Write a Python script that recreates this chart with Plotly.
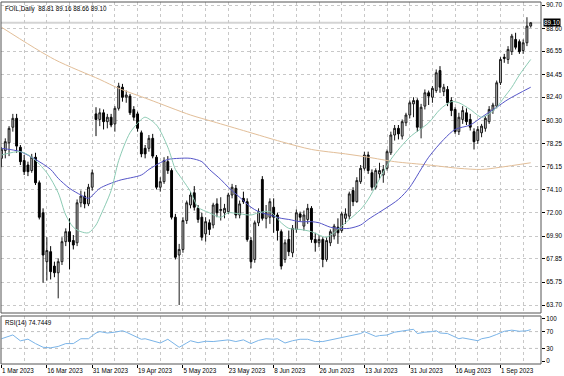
import plotly.graph_objects as go

# ---------------- data ----------------
bar_index = list(range(141))
opens = [76.9,77.6,78.3,79.7,80.5,77.9,76.7,76.3,75.8,77.0,74.7,72.0,67.6,68.5,67.2,66.6,67.6,69.4,70.3,69.5,
         69.3,72.9,73.5,72.8,74.3,80.9,80.4,81.0,80.2,80.6,80.0,81.4,83.3,82.4,82.5,81.3,80.9,79.2,77.8,77.8,
         78.7,77.0,74.3,74.8,76.6,75.8,71.6,68.2,68.7,71.3,72.7,73.8,72.4,71.6,70.1,71.1,70.9,72.8,72.2,72.0,
         72.1,73.6,74.2,71.8,73.3,73.0,69.5,67.8,71.1,75.0,71.5,71.6,72.5,71.8,70.3,67.8,69.6,68.4,70.5,71.9,
         70.8,71.4,72.4,69.6,69.3,69.6,67.8,69.3,69.9,70.7,70.4,71.5,71.7,74.0,73.0,74.8,76.0,77.2,75.6,74.3,
         75.5,75.4,76.0,77.4,79.0,79.6,78.9,80.1,80.8,81.8,82.1,79.6,81.6,82.8,82.4,83.0,84.8,82.9,83.1,82.1,
         81.3,79.3,80.4,81.0,80.4,79.3,78.5,79.2,79.6,80.2,81.2,81.6,83.7,86.0,85.8,86.5,87.6,87.4,86.6,87.3,
         88.81]
highs = [77.9,78.7,79.8,80.9,80.9,78.1,77.2,76.6,77.3,77.4,74.9,72.4,69.8,69.0,67.6,67.9,69.8,70.6,71.5,70.0,
         73.2,74.0,73.9,74.6,75.9,81.5,81.4,81.3,80.9,80.9,81.6,83.7,83.6,83.0,82.7,81.6,81.1,79.4,78.1,79.0,
         79.1,77.2,75.2,77.0,77.1,76.0,71.9,69.2,71.6,73.1,73.9,74.4,72.7,72.0,71.6,71.4,72.9,73.3,73.4,72.8,
         73.8,74.6,74.5,73.1,73.9,73.3,69.8,71.3,72.4,75.3,72.7,73.3,73.3,72.0,70.5,69.6,70.4,70.9,72.3,72.1,
         72.2,72.8,72.6,70.2,70.0,69.8,69.8,70.5,71.0,71.5,72.1,72.4,73.9,74.3,75.2,76.3,77.5,77.5,75.9,76.0,
         76.5,76.3,77.7,79.3,79.9,79.9,80.4,81.0,82.1,82.4,82.3,81.8,83.1,83.0,83.4,84.9,85.2,83.6,83.4,82.4,
         81.5,81.0,81.6,81.4,80.9,79.6,79.8,80.0,80.7,81.6,81.9,83.9,86.0,86.3,87.0,88.1,88.2,87.6,87.6,89.6,
         89.16]
lows = [76.1,76.9,77.1,79.3,77.4,76.3,75.4,75.3,75.6,74.5,71.4,65.7,65.9,66.0,66.2,64.3,67.3,69.0,66.9,68.7,
        69.0,72.5,72.4,72.6,74.0,78.9,79.8,79.5,79.6,79.7,79.3,81.2,82.0,81.9,80.8,80.3,79.3,77.0,76.9,77.5,
        76.9,74.1,73.9,74.6,75.5,71.4,67.8,63.7,68.4,71.0,72.4,72.2,71.1,69.5,69.4,70.0,70.6,71.6,71.3,71.5,
        71.9,73.3,71.5,71.5,72.8,69.4,67.0,67.5,70.8,71.3,70.6,71.0,70.2,69.5,66.9,67.5,68.1,68.0,70.2,71.2,
        70.4,71.0,69.3,68.5,68.9,67.1,67.6,69.0,69.6,69.2,70.2,71.0,71.4,72.6,72.9,74.6,75.8,75.5,74.0,74.1,
        75.0,74.7,75.8,77.2,78.5,78.6,78.6,79.8,80.5,80.6,79.3,78.7,81.3,81.7,81.9,82.8,82.8,82.5,81.6,80.7,
        79.1,79.0,80.0,79.9,79.4,77.7,78.2,78.8,79.3,80.0,80.9,81.4,83.5,85.5,85.4,86.2,86.7,86.3,86.3,87.0,
        88.66]
closes = [77.7,78.4,79.6,80.5,78.0,76.6,75.7,75.7,77.0,74.7,71.6,68.2,68.6,66.7,66.6,67.6,69.4,70.3,69.4,69.1,
          72.9,73.5,72.8,74.3,75.6,80.4,81.0,80.2,80.6,79.9,81.4,83.4,82.4,82.6,81.0,80.6,79.6,77.3,77.3,78.7,
          77.1,74.3,74.8,76.7,75.8,71.6,68.0,68.7,71.3,72.9,73.6,72.5,71.4,69.8,71.2,70.5,72.7,72.0,72.3,72.4,
          73.6,74.3,71.8,72.8,73.0,69.6,67.6,71.1,72.1,71.5,72.0,73.0,71.6,70.4,67.2,69.3,68.5,70.6,72.0,71.6,
          71.8,72.4,69.6,69.3,69.6,67.8,69.5,70.3,70.8,70.2,71.9,71.9,73.7,73.0,74.9,76.0,77.2,75.8,74.3,75.8,
          75.8,75.9,77.5,79.0,79.6,79.1,80.2,80.8,81.9,82.1,79.7,81.5,82.8,82.5,83.2,84.6,83.3,83.3,81.9,81.2,
          79.3,80.6,81.2,80.2,79.7,78.4,79.5,79.8,80.5,81.3,81.7,83.7,85.8,85.9,86.7,87.9,86.9,86.5,87.3,88.8,
          89.10]

# moving averages (bar index, value)
fast_ma_x = [0,5,8,12,15,17,19,21,23,25,26,29,31,34,37,38,41,44,46,47,50,52,55,58,60,63,66,68,71,74,76,79,82,84,86,
             89,91,95,97,103,108,113,116,119,121,124,127,129,131,133,135,137,140]
fast_ma = [77.2,77.5,77.0,75.6,73.8,71.8,70.7,70.3,70.2,70.9,71.6,74.0,76.7,79.2,80.4,80.6,79.9,77.9,75.9,75.4,73.9,
           72.5,72.0,71.6,72.0,71.9,71.8,72.0,72.1,71.1,70.6,70.5,70.3,70.0,69.8,70.5,71.1,72.3,73.2,76.8,78.8,80.1,
           81.3,82.0,81.9,81.3,80.6,80.9,81.5,82.4,83.3,84.4,85.8]
mid_ma_x = [0,5,9,13,15,18,21,23,26,31,37,39,42,44,47,50,53,55,58,60,63,66,68,71,74,76,79,82,84,87,89,92,95,97,
            105,108,113,117,120,124,127,131,134,140]
mid_ma = [77.8,77.5,76.8,75.9,75.1,74.2,73.6,73.3,74.2,74.9,75.4,75.9,76.5,76.8,76.9,76.9,76.6,75.9,75.0,74.3,
          73.4,72.5,72.1,71.8,71.5,71.4,71.2,71.2,71.1,70.7,70.6,70.6,70.9,71.4,73.2,74.3,77.0,78.6,79.5,79.9,
          80.6,81.5,82.2,83.3]
slow_ma_x = [0,14,26,31,39,50,56,65,74,82,91,97,104,113,121,127,132,140]
slow_ma = [88.7,85.8,84.0,83.2,82.2,80.8,80.2,79.3,78.4,77.7,77.3,77.0,76.6,76.3,76.0,75.9,76.1,76.5]

rsi_x = [0,3,5,7,9,11,13,15,17,19,21,23,24,25,26,28,30,32,33,35,37,38,40,42,44,46,47,49,50,52,54,56,58,60,62,
         64,66,68,70,72,73,75,77,79,81,83,85,87,89,91,93,95,96,98,99,100,102,104,106,108,109,110,112,114,115,116,
         118,120,121,122,124,126,127,129,131,133,135,137,139,140]
rsi = [53,62,48,52,41.5,32.7,31.4,34.7,41.5,41.5,53,53,60,66.6,70,66.6,68.6,72,68.6,60,51.7,53,48.3,42.9,51.7,
       40.2,32.7,42.9,48.3,43.6,47,46.3,49,50.3,46.3,50.3,41.5,49,53,51.7,53,42.9,48.3,51.7,51.7,46.3,46.3,50.3,
       53,58.5,61.9,65.3,70,61.9,58.5,60.5,61.9,68.6,70.7,73.4,75.4,65.3,68.6,70,72,66.6,65.3,57.1,53,55,51.7,
       48.3,53,56.4,63.2,70.7,73.4,70.7,72,74.7]

price_ticks = [90.70,88.60,86.55,84.45,82.40,80.30,78.25,76.15,74.10,72.00,69.90,67.85,65.75,63.70]
price_tick_text = ["90.70","88.60","86.55","84.45","82.40","80.30","78.25","76.15","74.10","72.00",
                   "69.90","67.85","65.75","63.70"]
date_tick_idx = [0,12,24,36,48,60,72,84,96,108,120,132]
date_tick_text = ["1 Mar 2023","16 Mar 2023","31 Mar 2023","19 Apr 2023","5 May 2023","23 May 2023",
                  "8 Jun 2023","26 Jun 2023","13 Jul 2023","31 Jul 2023","16 Aug 2023","1 Sep 2023"]
rsi_ticks = [100,70,30,0]
bid_price = 89.10
header_text = "FOIL,Daily  88.81 89.16 88.66 89.10"
rsi_text = "RSI(14) 74.7449"

# ---------------- figure ----------------
W, H = 564, 376
FONT = "Liberation Sans"
FS = 6.3
fig = go.Figure()

fig.add_trace(go.Candlestick(
    x=bar_index, open=opens, high=highs, low=lows, close=closes,
    increasing=dict(line=dict(color="#1a1a1a", width=1), fillcolor="#c4c4c4"),
    decreasing=dict(line=dict(color="#000000", width=1), fillcolor="#000000"),
    whiskerwidth=0, showlegend=False, hoverinfo="skip", xaxis="x", yaxis="y"))

fig.add_trace(go.Scatter(x=slow_ma_x, y=slow_ma, mode="lines", line=dict(color="#e2be98", width=1, shape="spline", smoothing=0.8),
                         showlegend=False, hoverinfo="skip", xaxis="x", yaxis="y"))
fig.add_trace(go.Scatter(x=mid_ma_x, y=mid_ma, mode="lines", line=dict(color="#5555c8", width=1, shape="spline", smoothing=0.8),
                         showlegend=False, hoverinfo="skip", xaxis="x", yaxis="y"))
fig.add_trace(go.Scatter(x=fast_ma_x, y=fast_ma, mode="lines", line=dict(color="#8ccbb4", width=1, shape="spline", smoothing=0.8),
                         showlegend=False, hoverinfo="skip", xaxis="x", yaxis="y"))

fig.add_trace(go.Scatter(x=rsi_x, y=rsi, mode="lines", line=dict(color="#7ab4e8", width=1),
                         showlegend=False, hoverinfo="skip", xaxis="x2", yaxis="y2"))

x_dom = [1 / W, 541 / W]
x_rng = [-0.13, 142.72]
main_dom = [1 - 313 / H, 1 - 2 / H]
rsi_dom = [1 - 364 / H, 1 - 316 / H]
p_per_px = 0.09
y_rng = [90.70 - 308 * p_per_px, 90.70 + 3 * p_per_px]

grid = dict(showgrid=True, gridcolor="#c8c8c8", griddash="dot", gridwidth=1)
tickfont = dict(family=FONT, size=FS, color="#000000")

fig.update_layout(
    width=W, height=H, margin=dict(l=0, r=0, t=0, b=0, pad=0),
    paper_bgcolor="white", plot_bgcolor="white",
    font=dict(family=FONT, size=FS, color="#000000"),
    boxgap=0.3,
    xaxis=dict(domain=x_dom, range=x_rng, rangeslider=dict(visible=False), showticklabels=False,
               tickvals=date_tick_idx, ticks="", showline=False, zeroline=False,
               minor=dict(dtick=6, tick0=0, showgrid=True, gridcolor="#c8c8c8", griddash="dot"),
               **grid),
    yaxis=dict(domain=main_dom, range=y_rng, side="right", tickvals=price_ticks, ticktext=price_tick_text,
               ticks="outside", ticklen=3, tickcolor="#000000", tickfont=tickfont, zeroline=False,
               automargin=False, **grid),
    xaxis2=dict(domain=x_dom, range=x_rng, anchor="y2", tickvals=date_tick_idx, ticktext=date_tick_text,
                ticklabelposition="outside right", tickangle=0, ticks="outside", ticklen=3, tickcolor="#000000",
                tickfont=tickfont, zeroline=False, automargin=False,
                minor=dict(dtick=6, tick0=0, showgrid=True, gridcolor="#c8c8c8", griddash="dot"),
                **grid),
    yaxis2=dict(domain=rsi_dom, range=[-7, 107], anchor="x2", side="right", tickvals=rsi_ticks,
                ticks="outside", ticklen=3, tickcolor="#000000", tickfont=tickfont, zeroline=False,
                showgrid=False, automargin=False),
)

# RSI level lines
for lvl in [70, 30]:
    fig.add_shape(type="line", xref="x2", yref="y2", x0=x_rng[0], x1=x_rng[1], y0=lvl, y1=lvl,
                  line=dict(color="#c0c0c0", width=1, dash="dot"), layer="below")

# bid line
fig.add_shape(type="line", xref="x", yref="y", x0=x_rng[0], x1=x_rng[1], y0=bid_price, y1=bid_price,
              line=dict(color="#d4d4d4", width=2), layer="below")

# panel frames
for dom in (main_dom, rsi_dom):
    fig.add_shape(type="rect", xref="paper", yref="paper", x0=x_dom[0], x1=x_dom[1], y0=dom[0], y1=dom[1],
                  line=dict(color="#555555", width=1), fillcolor="rgba(0,0,0,0)")

# texts
fig.add_annotation(xref="paper", yref="paper", x=3 / W, y=1 - 3 / H, xanchor="left", yanchor="top",
                   text=header_text, showarrow=False, font=dict(family=FONT, size=FS, color="#000000"))
fig.add_annotation(xref="paper", yref="paper", x=3 / W, y=1 - 317 / H, xanchor="left", yanchor="top",
                   text=rsi_text, showarrow=False, font=dict(family=FONT, size=FS, color="#000000"))
fig.add_annotation(xref="paper", yref="y", x=543 / W, y=bid_price, xanchor="left", yanchor="middle",
                   text="89.10", showarrow=False, bgcolor="#000000", borderpad=0,
                   font=dict(family=FONT, size=FS, color="#ffffff"))

fig.write_html("out.html", config={"displayModeBar": False},
               post_script="document.body.style.margin='0';document.body.style.padding='0';")
